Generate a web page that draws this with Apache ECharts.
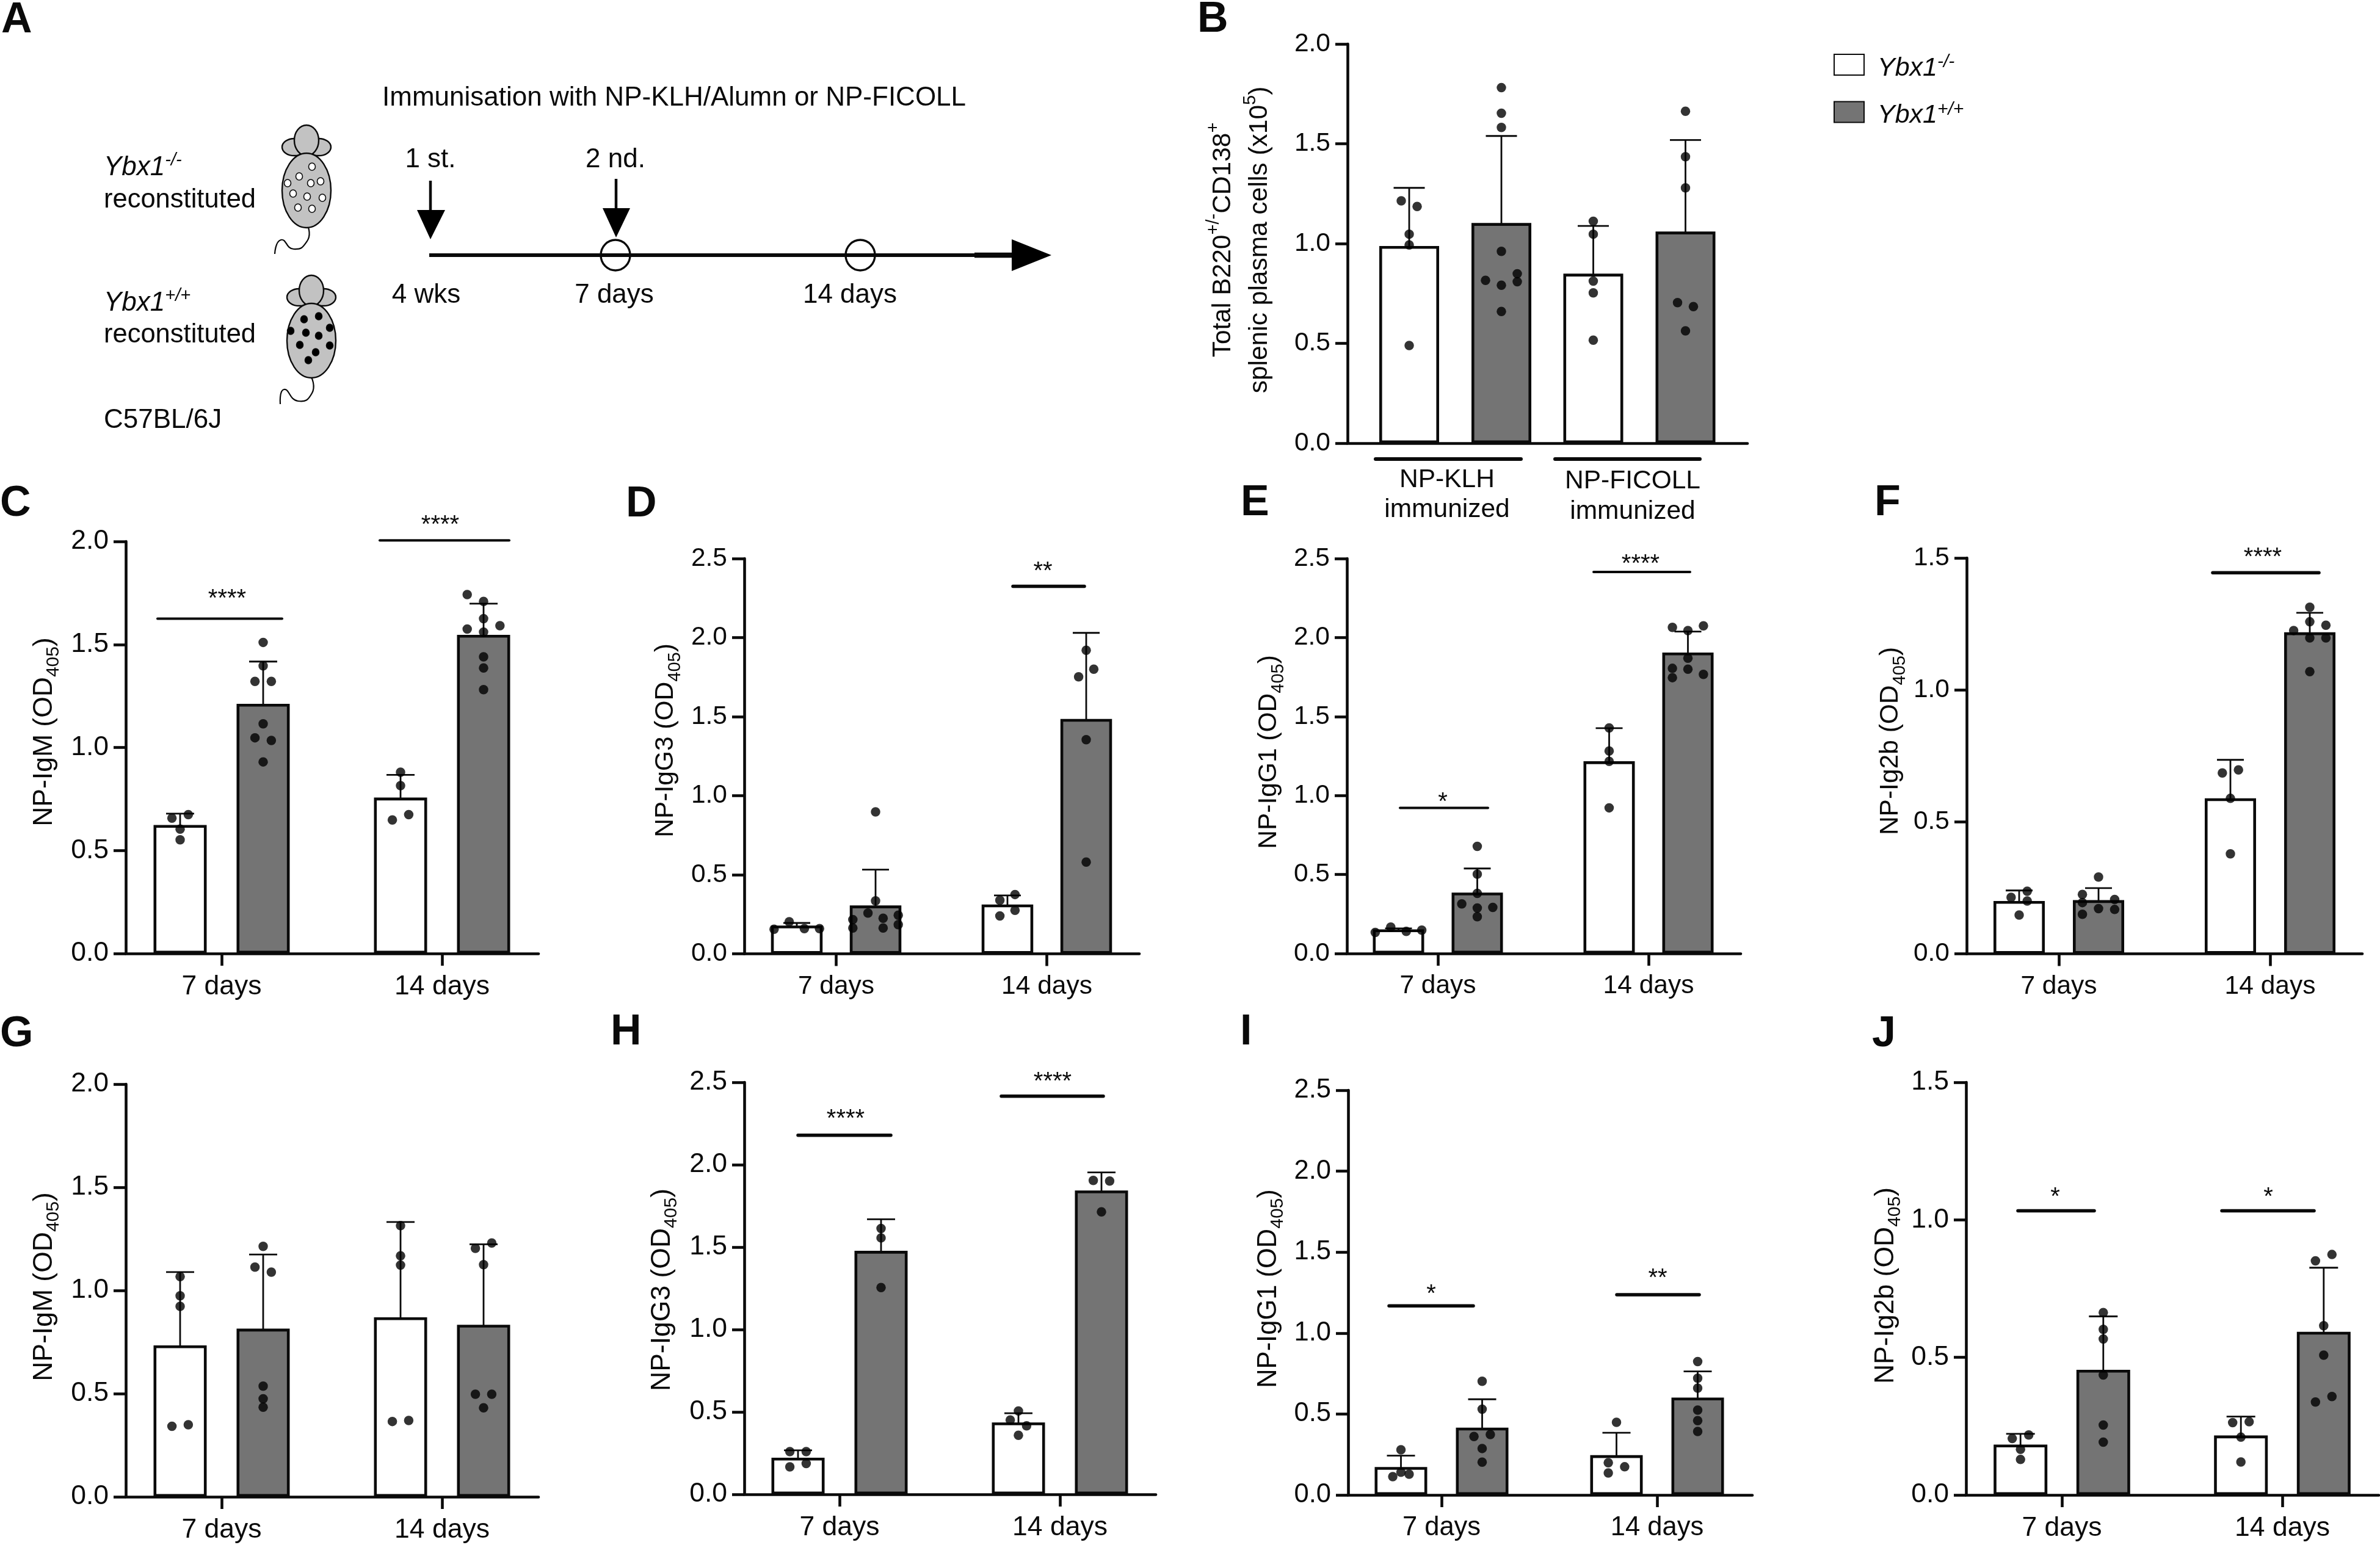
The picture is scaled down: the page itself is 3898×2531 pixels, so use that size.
<!DOCTYPE html>
<html><head><meta charset="utf-8">
<script src="https://cdn.jsdelivr.net/npm/echarts@6/dist/echarts.min.js"></script>
<style>html,body{margin:0;padding:0;background:#fff}#c{width:3898px;height:2531px}</style>
</head><body><div id="c"></div>
<script>
// ---- DATA (order of bars: white 1st group, grey 1st group, white 2nd group, grey 2nd group)
const days = ['7 days', '14 days'];
const legendNames = ['Ybx1-/-', 'Ybx1+/+'];

const B_means = [0.981, 1.096, 0.842, 1.053];
const B_tops  = [1.279, 1.539, 1.088, 1.519];
const B_dots  = [[1.214,1.186,1.047,0.993,0.489],[1.781,1.653,1.582,0.961,0.849,0.816,0.809,0.791,0.66],[1.112,1.047,0.812,0.753,0.516],[1.663,1.435,1.279,0.704,0.684,0.563]];

const C_means = [0.617, 1.205, 0.75, 1.54];
const C_tops  = [0.679, 1.417, 0.867, 1.698];
const C_dots  = [[0.657,0.674,0.604,0.552],[1.51,1.396,1.321,1.321,1.115,1.047,1.034,0.93],[0.88,0.815,0.674,0.648],[1.742,1.709,1.625,1.575,1.591,1.56,1.44,1.386,1.281]];
const C_sig   = [[1.625,'****'],[2.005,'****']];

const D_means = [0.17, 0.297, 0.303, 1.477];
const D_tops  = [0.195, 0.532, 0.369, 2.03];
const D_dots  = [[0.203,0.155,0.159,0.159],[0.898,0.335,0.258,0.225,0.244,0.216,0.163,0.163,0.184],[0.339,0.375,0.275,0.239],[1.92,1.8,1.752,1.354,0.58]];
const D_sig   = [[2.324,'**']];

const E_means = [0.144, 0.377, 1.208, 1.896];
const E_tops  = [0.159, 0.538, 1.426, 2.038];
const E_dots  = [[0.167,0.133,0.14,0.148],[0.678,0.502,0.381,0.314,0.292,0.288,0.233],[1.428,1.282,1.216,0.922],[2.064,2.044,2.074,1.869,1.805,1.8,1.767,1.746]];
const E_sig   = [[0.922,'*'],[2.415,'****']];

const F_means = [0.195, 0.198, 0.584, 1.213];
const F_tops  = [0.24, 0.249, 0.735, 1.292];
const F_dots  = [[0.237,0.214,0.2,0.147],[0.291,0.225,0.206,0.194,0.171,0.168,0.15],[0.685,0.697,0.589,0.379],[1.313,1.258,1.245,1.225,1.197,1.197,1.069]];
const F_sig   = [[1.444,'****']];

const G_means = [0.727, 0.808, 0.863, 0.827];
const G_tops  = [1.089, 1.174, 1.332, 1.224];
const G_dots  = [[1.067,0.974,0.923,0.342,0.349],[1.214,1.113,1.089,0.536,0.475,0.434],[1.314,1.168,1.123,0.365,0.37],[1.23,1.204,1.125,0.497,0.497,0.431]];
const G_sig   = [];

const H_means = [0.214, 1.469, 0.428, 1.835];
const H_tops  = [0.267, 1.669, 0.492, 1.953];
const H_dots  = [[0.259,0.259,0.187,0.167],[1.613,1.556,1.255],[0.506,0.451,0.416,0.358],[1.905,1.901,1.714]];
const H_sig   = [[2.179,'****'],[2.416,'****']];

const I_means = [0.164, 0.407, 0.237, 0.593];
const I_tops  = [0.243, 0.591, 0.384, 0.763];
const I_dots  = [[0.279,0.14,0.128,0.113],[0.702,0.53,0.373,0.361,0.287,0.203],[0.449,0.199,0.174,0.136],[0.824,0.721,0.66,0.524,0.459,0.392]];
const I_sig   = [[1.168,'*'],[1.237,'**']];

const J_means = [0.178, 0.45, 0.211, 0.588];
const J_tops  = [0.222, 0.649, 0.285, 0.826];
const J_dots  = [[0.218,0.205,0.166,0.129],[0.663,0.602,0.567,0.436,0.254,0.192],[0.263,0.266,0.21,0.12],[0.874,0.851,0.615,0.508,0.358,0.338]];
const J_sig   = [[1.033,'*'],[1.033,'*']];

// ---- LAYOUT (page pixels and beeswarm slots; no values)
const panels = [
 {id:'B',m:B_means,e:B_tops,d:B_dots,sig:[],ax:2207,right:2862,top:72,y0:726,t1:2383.5,t2:2685,sep:151,bw:98,slot:13,cap:51,font:42.5,max:2,name:null,tx:2063,ty:393,noX:true,
  jit:[[-1,1,0,0,0],[0,0,0,0,2,-2,2,0,0],[0,0,0,0,0],[0,0,0,-1,1,0]]},
 {id:'C',m:C_means,e:C_tops,d:C_dots,sig:C_sig,ax:206,right:882,top:887,y0:1562,t1:363,t2:724,sep:136,bw:87,slot:13.4,cap:46,font:44.5,max:2,name:'NP-IgM',tx:73,ty:1199,sw:4,
  jit:[[-1,1,0,0],[0,0,-1,1,0,-1,1,0],[0,0,1,-1],[-2,0,0,-2,2,0,0,0,0]],sx:[[258,462,372,40],[622,834,721,33]]},
 {id:'D',m:D_means,e:D_tops,d:D_dots,sig:D_sig,ax:1219,right:1866,top:915,y0:1562.5,t1:1369.5,t2:1714.5,sep:129,bw:84.5,slot:12.4,cap:44,font:42.5,max:2.5,name:'NP-IgG3',tx:1090,ty:1213,sw:5.5,
  jit:[[-1,-3,1,3],[0,0,-1,1,3,-3,-3,1,3],[-1,1,1,-1],[0,1,-1,0,0]],sx:[[1659,1776,1708,32]]},
 {id:'E',m:E_means,e:E_tops,d:E_dots,sig:E_sig,ax:2206,right:2851,top:915,y0:1562,t1:2355,t2:2700,sep:129,bw:84,slot:12.7,cap:44,font:42.5,max:2.5,name:'NP-IgG1',tx:2078,ty:1232,sw:4,
  jit:[[-1,-3,1,3],[0,0,0,-2,2,0,0],[0,0,0,0],[-2,0,2,0,-2,0,2,-2]],sx:[[2293,2437,2363,17],[2610,2768,2687,21]]},
 {id:'F',m:F_means,e:F_tops,d:F_dots,sig:F_sig,ax:3221,right:3869,top:914,y0:1562.5,t1:3372,t2:3718,sep:130,bw:84,slot:13.2,cap:44,font:42.5,max:1.5,name:'NP-Ig2b',tx:3096,ty:1214,sw:5.5,
  jit:[[1,-1,1,0],[0,-2,2,-2,0,2,-2],[-1,1,0,0],[0,0,2,-2,0,2,0]],sx:[[3624,3798,3706,33]]},
 {id:'G',m:G_means,e:G_tops,d:G_dots,sig:G_sig,ax:206,right:882,top:1776,y0:2452,t1:363,t2:724,sep:136,bw:87,slot:13.4,cap:46,font:44.5,max:2,name:'NP-IgM',tx:73,ty:2108,
  jit:[[0,0,0,-1,1],[0,-1,1,0,0,0],[0,0,0,-1,1],[1,-1,0,-1,1,0]],sx:[]},
 {id:'H',m:H_means,e:H_tops,d:H_dots,sig:H_sig,ax:1219,right:1893,top:1773,y0:2448,t1:1375,t2:1736,sep:136,bw:87,slot:13.4,cap:46,font:44.5,max:2.5,name:'NP-IgG3',tx:1085,ty:2113,sw:5.5,
  jit:[[-1,1,1,-1],[0,0,0],[0,-1,1,0],[-1,1,0]],sx:[[1307,1459,1385,34],[1640,1807,1724,31]]},
 {id:'I',m:I_means,e:I_tops,d:I_dots,sig:I_sig,ax:2208,right:2870,top:1786,y0:2449,t1:2361,t2:2714,sep:133,bw:86,slot:13.4,cap:46,font:43.5,max:2.5,name:'NP-IgG1',tx:2078,ty:2111,sw:5.5,
  jit:[[0,0,1,-1],[0,0,1,-1,0,0],[0,-1,1,-1],[0,0,0,0,0,0]],sx:[[2275,2413,2344,27],[2648,2783,2715,34]]},
 {id:'J',m:J_means,e:J_tops,d:J_dots,sig:J_sig,ax:3220,right:3896,top:1773,y0:2449,t1:3377,t2:3738,sep:135.6,bw:88,slot:13.5,cap:47,font:44.5,max:1.5,name:'NP-Ig2b',tx:3089,ty:2106,sw:5.5,
  jit:[[1,-1,0,0],[0,0,0,0,0,0],[-1,1,0,0],[1,-1,0,0,1,-1]],sx:[[3305,3430,3366,30],[3639,3790,3715,30]]}
];
const FF = '"Liberation Sans", Arial, sans-serif';
const INK = '#0a0a0a', GREY = '#747474', LW = 4.6;

const grids=[], xAxes=[], yAxes=[], series=[];
panels.forEach((p,i)=>{
  const step = p.t2-p.t1, toX = px => (px-p.t1)/step;
  const halfStroke = (LW/2)*p.max/(p.y0-p.top); // ECharts insets a bar's stroke; this keeps the stroke centred on the value
  grids.push({left:p.ax, top:p.top, width:p.right-p.ax, height:p.y0-p.top, containLabel:false});
  xAxes.push({type:'value', gridIndex:i, min:toX(p.ax), max:toX(p.right), splitLine:{show:false},
    axisLine:{onZero:false, lineStyle:{color:INK,width:LW}},
    axisTick:p.noX?{show:false}:{show:true,customValues:[0,1],length:20,inside:false,lineStyle:{color:INK,width:LW}},
    axisLabel:p.noX?{show:false}:{show:true,customValues:[0,1],margin:32,fontSize:p.font,fontFamily:FF,color:INK,formatter:v=>days[Math.round(v)]}});
  const rich={a:{fontSize:p.font,fontFamily:FF,color:INK,lineHeight:60,verticalAlign:'middle'},
              s:{fontSize:Math.round(p.font*.68),fontFamily:FF,color:INK,lineHeight:Math.round(p.font*.68),verticalAlign:'bottom'},
              u:{fontSize:Math.round(p.font*.68),fontFamily:FF,color:INK,lineHeight:Math.round(p.font*.68),verticalAlign:'top'}};
  const nm = p.name ? `{a|${p.name} (OD}{s|405}{a|)}` : '{a|Total B220}{u|+/-}{a|CD138}{u|+}\n{a|splenic plasma cells (x10}{u|5}{a|)}';
  const shift = (p.top+p.y0)/2 - p.ty;
  yAxes.push({type:'value', gridIndex:i, min:0, max:p.max, interval:0.5, splitLine:{show:false},
    axisLine:{show:true,onZero:false,lineStyle:{color:INK,width:LW}},
    axisTick:{show:true,length:20,lineStyle:{color:INK,width:LW}},
    axisLabel:{margin:28,fontSize:p.font,fontFamily:FF,color:INK,formatter:v=>v.toFixed(1)},
    name:nm, nameLocation:'middle', nameRotate:90, nameMoveOverlap:false,
    nameGap:p.ax-p.tx-30,
    nameTextStyle:{rich, padding:shift>=0?[0,0,0,2*shift]:[0,-2*shift,0,0]}});
  const gap=((p.sep-p.bw)/p.bw*100).toFixed(1)+'%';
  [0,1].forEach(side=>{
    series.push({type:'bar',name:legendNames[side],xAxisIndex:i,yAxisIndex:i,barWidth:p.bw,barGap:gap,z:2,animation:false,silent:true,
      itemStyle:{color:side?GREY:'#fff',borderColor:INK,borderWidth:LW},
      data:[[0,p.m[side]+halfStroke],[1,p.m[2+side]+halfStroke]]});
  });
  const cx = k => (k>>1) + ((k&1?1:-1)*p.sep/2)/step;
  series.push({type:'custom',name:'sd'+p.id,xAxisIndex:i,yAxisIndex:i,z:3,silent:true,animation:false,clip:false,
    encode:{x:0,y:[1,2]},data:p.m.map((m,k)=>[cx(k),m,p.e[k]]),
    renderItem:(params,api)=>{
      const a=api.coord([api.value(0),api.value(1)]), b=api.coord([api.value(0),api.value(2)]), h=p.cap/2;
      const st={stroke:INK,lineWidth:2.8,fill:null};
      return {type:'group',children:[
        {type:'line',shape:{x1:a[0],y1:a[1],x2:b[0],y2:b[1]},style:st},
        {type:'line',shape:{x1:a[0]-h,y1:b[1],x2:a[0]+h,y2:b[1]},style:st}]};
    }});
  const pts=[];
  p.d.forEach((vals,k)=>vals.forEach((v,j)=>pts.push([cx(k)+p.jit[k][j]*p.slot/step,v])));
  series.push({type:'scatter',name:'dots'+p.id,xAxisIndex:i,yAxisIndex:i,z:4,silent:true,animation:false,symbol:'circle',symbolSize:15.5,clip:false,
    itemStyle:{color:'#000'},data:pts});
  if(p.sig.length){
    series.push({type:'custom',name:'sig'+p.id,xAxisIndex:i,yAxisIndex:i,z:5,silent:true,animation:false,clip:false,
      encode:{x:0,y:1},data:p.sig.map((s,k)=>[toX(p.sx[k][0]),s[0],k]),
      renderItem:(params,api)=>{
        const k=api.value(2), sx=p.sx[k], a=api.coord([toX(sx[0]),api.value(1)]), b=api.coord([toX(sx[1]),api.value(1)]), c=api.coord([toX(sx[2]),api.value(1)]);
        return {type:'group',children:[
          {type:'line',shape:{x1:a[0],y1:a[1],x2:b[0],y2:b[1]},style:{stroke:INK,lineWidth:p.sw,lineCap:'round',fill:null}},
          {type:'text',x:c[0],y:c[1]-sx[3]+8.5,style:{text:p.sig[k][1],fontSize:40,fontFamily:FF,fill:INK,align:'center',verticalAlign:'middle'}}]};
      }});
  }
});

// ---- Schematic panel A, panel letters and annotations
const gfx=[];
const T=(x,y,text,o={})=>gfx.push({type:'text',x,y,silent:true,style:Object.assign({text,fontFamily:FF,fontSize:44,fill:INK,align:'left',verticalAlign:'middle'},o)});
const E=(cx,cy,rx,ry,fill,lw=2.4,stroke=INK,z=1)=>gfx.push({type:'ellipse',silent:true,z,shape:{cx,cy,rx,ry},style:{fill,stroke,lineWidth:lw}});
const L=(x1,y1,x2,y2,w,cap='butt')=>gfx.push({type:'line',silent:true,shape:{x1,y1,x2,y2},style:{stroke:INK,lineWidth:w,lineCap:cap}});
const P=(pts)=>gfx.push({type:'polygon',silent:true,shape:{points:pts},style:{fill:'#000'}});
[['A',2,34],['B',1961,33],['C',0,826],['D',1025,827],['E',2032,825],['F',3070,825],['G',0,1695],['H',1000,1692],['I',2031,1692],['J',3066,1695]]
  .forEach(a=>T(a[1],a[2],a[0],{fontSize:70,fontWeight:'bold'}));
const ybxRich={i:{fontSize:44,fontStyle:'italic',fontFamily:FF,fill:INK,lineHeight:54,verticalAlign:'middle'},s:{fontSize:29,fontStyle:'italic',fontFamily:FF,fill:INK,lineHeight:29,verticalAlign:'top'}};
T(626,161,'Immunisation with NP-KLH/Alumn or NP-FICOLL');
T(170,275,'{i|Ybx1}{s|-/-}',{rich:ybxRich});
T(170,328,'reconstituted',{fontSize:43.5});
T(170,497,'{i|Ybx1}{s|+/+}',{rich:ybxRich});
T(170,549,'reconstituted',{fontSize:43.5});
T(170,689,'C57BL/6J');
T(705,262,'1 st.',{align:'center'});
T(1008,262,'2 nd.',{align:'center'});
T(698,484,'4 wks',{align:'center'});
T(1006,484,'7 days',{align:'center'});
T(1392,484,'14 days',{align:'center'});
L(705,296,705,350,4.5); P([[683,344],[729,344],[705,392]]);
L(1009,293,1009,347,4.5); P([[987,341],[1032,341],[1009,389]]);
L(703,418,1660,418,6); L(1596,418,1660,418,8.5); P([[1657,392],[1722,418],[1657,444]]);
E(1008,418,24,25,null,3.4); E(1409,418,24,25,null,3.4);
const mouse=(dx,dy,dots,fill,tail)=>{
  const G='#c2c2c2';
  E(dx-20,dy+11,20,14,G); E(dx+20,dy+11,20,14,G);
  E(dx,dy,20,25,G);
  E(dx,dy+82,40,61,G);
  gfx.push({type:'polyline',silent:true,shape:{points:tail,smooth:.6},style:{stroke:INK,lineWidth:2.2,fill:null}});
  dots.forEach(d=>E(d[0],d[1],5.5,6,fill,1.6));
};
mouse(502,230,[[511,273],[490,289],[471,300],[525,297],[509,300],[480,317],[503,322],[528,324],[511,342],[488,340]],'#fff',[[505,373],[503,395],[481,408],[460,393],[450,416]]);
mouse(510,476,[[498,523],[522,518],[476,542],[540,537],[501,545],[522,550],[491,565],[540,566],[517,577],[505,590]],'#000',[[510,618],[511,644],[488,657],[465,638],[459,662]]);
// panel B grouping bars and labels
L(2253,752,2491,752,6,'round'); L(2547,752,2784,752,6,'round');
T(2370,786,'NP-KLH',{align:'center',fontSize:42.5}); T(2370,835,'immunized',{align:'center',fontSize:42.5});
T(2674,788,'NP-FICOLL',{align:'center',fontSize:42.5}); T(2674,838,'immunized',{align:'center',fontSize:42.5});

const chart=echarts.init(document.getElementById('c'),null,{renderer:'canvas',width:3898,height:2531});
chart.setOption({
  backgroundColor:'#fff',animation:false,textStyle:{fontFamily:FF},
  legend:{data:legendNames,orient:'vertical',left:2998,top:82,itemWidth:49,itemHeight:34,itemGap:31,icon:'rect',selectedMode:false,
    textStyle:{fontFamily:FF,fontStyle:'italic',fontSize:43,color:INK,padding:[12,0,0,17],
      rich:{i:{fontSize:43,fontStyle:'italic',fontFamily:FF,color:INK,lineHeight:50,verticalAlign:'middle'},s:{fontSize:30,fontStyle:'italic',fontFamily:FF,color:INK,lineHeight:30,verticalAlign:'top'}}},
    formatter:n=>n==='Ybx1-/-'?'{i|Ybx1}{s|-/-}':'{i|Ybx1}{s|+/+}'},
  grid:grids,xAxis:xAxes,yAxis:yAxes,series,
  graphic:{elements:gfx}
});
</script></body></html>
